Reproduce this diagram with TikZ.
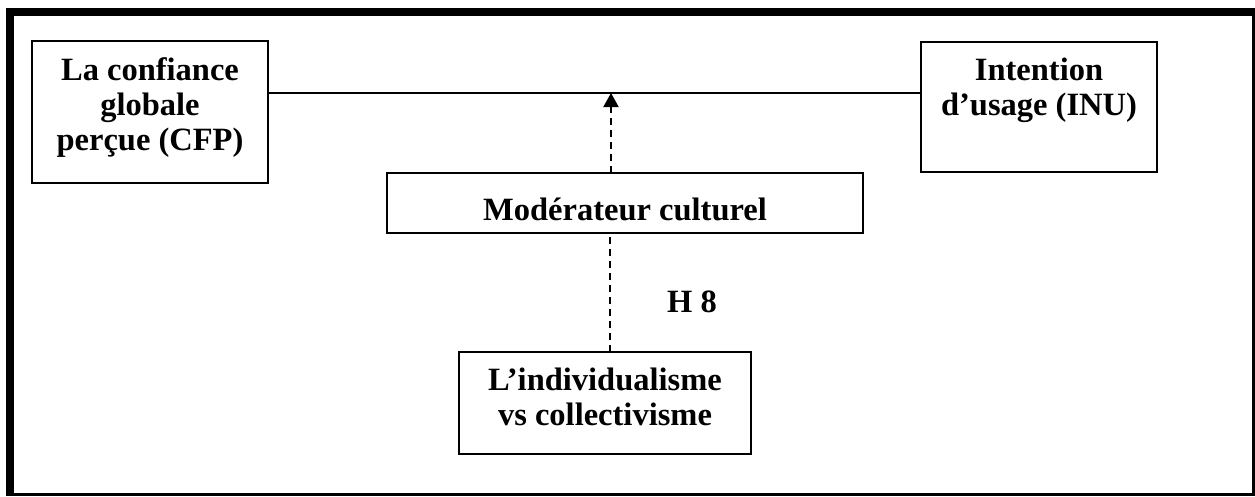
\documentclass[tikz,border=0pt]{standalone}
\usepackage{fontspec}
\setmainfont{Liberation Serif}
\usetikzlibrary{arrows.meta}
\newcommand{\bxt}[4]{\parbox[c][#2pt][t]{#1pt}{\centering\vspace*{#3pt}#4}}
\tikzset{
  box/.style={draw=black, line width=2pt, inner sep=0pt, outer sep=0pt, anchor=north west,
    font=\fontsize{32.5}{35}\selectfont\bfseries},
  frame/.style={fill=black, draw=none},
  link/.style={draw=black, line width=2pt},
  dlink/.style={draw=black, line width=2pt, dash pattern=on 7pt off 5pt},
  lbl/.style={font=\fontsize{32.5}{35}\selectfont\bfseries, inner sep=0pt, anchor=base west}
}
\begin{document}
\begin{tikzpicture}[x=1pt,y=-1pt]
\useasboundingbox (0,0) rectangle (1255,496);
% outer frame
\fill[frame] (6,8) rectangle (1255,16);
\fill[frame] (6,8) rectangle (14,495);
\fill[frame] (1252,8) rectangle (1255,495);
\fill[frame] (6,493) rectangle (1255,495.5);
% boxes
\node[box] (cfp) at (32,41) {\bxt{236}{142}{17}{La confiance\\ globale\\ perçue (CFP)}};
\node[box] (inu) at (921,42) {\bxt{236}{130}{16}{Intention\\ d’usage (INU)}};
\node[box] (mod) at (387,173) {\bxt{476}{60}{25}{Modérateur culturel}};
\node[box] (ind) at (459,352) {\bxt{292}{102}{16}{L’individualisme\\ vs collectivisme}};
% connectors
\draw[link] (cfp.east |- 0,93) -- (inu.west |- 0,93);
\coordinate (tip) at (611,93);
\draw[dlink, -{Triangle[width=15pt,length=14pt]}] (mod.north -| tip) -- (tip);
\draw[dlink] (ind.north -| 610,0) -- (mod.south -| 610,0);
\node[lbl] (h8) at (667,312) {H 8};
\end{tikzpicture}
\end{document}
